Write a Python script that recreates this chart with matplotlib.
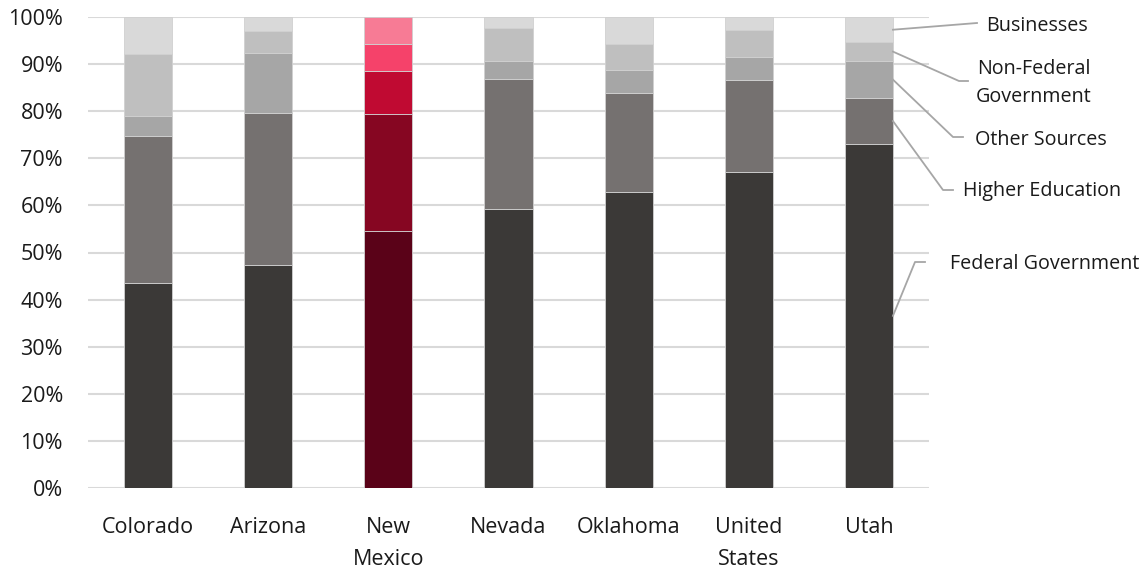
import matplotlib
matplotlib.use("Agg")
import matplotlib.pyplot as plt
from matplotlib.lines import Line2D

plt.rcParams['font.family'] = ['Open Sans', 'DejaVu Sans']

regions = ["Colorado", "Arizona", "New\nMexico", "Nevada", "Oklahoma", "United\nStates", "Utah"]
sources = ["Federal Government", "Higher Education", "Other Sources",
           "Non-Federal\nGovernment", "Businesses"]

federal = [43.5, 47.3, 54.6, 59.3, 62.8, 67.1, 73.1]
higher_ed = [31.3, 32.4, 24.8, 27.5, 21.1, 19.6, 9.6]
other = [4.2, 12.6, 9.1, 3.9, 4.9, 4.9, 8.0]
non_federal = [13.1, 4.8, 5.8, 7.0, 5.5, 5.7, 3.9]
businesses = [7.9, 2.9, 5.7, 2.3, 5.7, 2.7, 5.4]

series = [federal, higher_ed, other, non_federal, businesses]
grey_colors = ["#3b3937", "#757170", "#a6a6a6", "#bfbfbf", "#d9d9d9"]
red_colors = ["#5a0218", "#860622", "#c00a32", "#f5426a", "#f77b95"]
highlight = "New\nMexico"

fig = plt.figure(figsize=(11.47, 5.69), dpi=100)
ax = fig.add_axes([88 / 1147, 81 / 569, 841 / 1147, 471 / 569])

x = list(range(len(regions)))
width = 0.4
bottoms = [0.0] * len(regions)
for k, vals in enumerate(series):
    fracs = [v / 100 for v in vals]
    colors = [red_colors[k] if r == highlight else grey_colors[k] for r in regions]
    ax.bar(x, fracs, width, bottom=bottoms, color=colors,
           edgecolor="#d0d0d0", linewidth=0.6, zorder=3)
    bottoms = [b + f for b, f in zip(bottoms, fracs)]

ax.set_xlim(-0.5, len(regions) - 0.5)
ax.set_ylim(0, 1)
ax.set_yticks([i / 10 for i in range(11)])
ax.set_yticklabels([f"{i * 10}%" for i in range(11)])
ax.set_xticks(x)
ax.set_xticklabels(regions, linespacing=1.7)
ax.yaxis.grid(True, color="#d9d9d9", linewidth=1.5, zorder=0)
ax.set_axisbelow(True)
for s in ax.spines.values():
    s.set_visible(False)
ax.tick_params(axis="both", length=0, labelsize=15.5, colors="#1a1a1a")
ax.tick_params(axis="y", pad=18)
ax.tick_params(axis="x", pad=21)

# Leader-line labels for the last bar
last = len(regions) - 1
edge_x = last + width / 2
mids = []
acc = 0.0
for vals in series:
    v = vals[last] / 100
    mids.append(acc + v / 2)
    acc += v


def px_to_data(px, py):
    return (px - 88) / (841 / 7) - 0.5, (488 - py) / 471


# (elbow x, elbow y, horizontal end x, text x, text y, ha)
label_geom = [
    (915, 262, 925, 950, 264, "left"),
    (943, 190, 953, 963, 191, "left"),
    (953, 137, 963, 975, 140, "left"),
    (959, 81, 968, 1034, 83, "center"),
    (977, 23, 977, 986, 26, "left"),
]
for name, mid, (ex, ey, hx, tx, ty, ha) in zip(sources, mids, label_geom):
    exd, eyd = px_to_data(ex, ey)
    hxd, _ = px_to_data(hx, ey)
    txd, tyd = px_to_data(tx, ty)
    ax.add_line(Line2D([edge_x, exd, hxd], [mid, eyd, eyd], color="#a6a6a6",
                       linewidth=1.3, clip_on=False, zorder=4))
    ax.text(txd, tyd, name, ha=ha, va="center", fontsize=14.2, color="#1a1a1a",
            multialignment="center", linespacing=1.55, clip_on=False)

fig.savefig("out.png", dpi=100)
